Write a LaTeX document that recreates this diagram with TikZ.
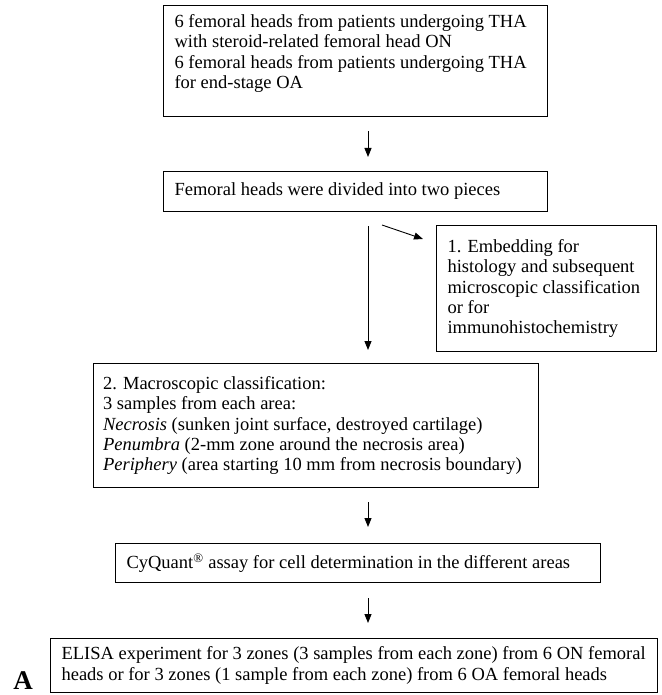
\documentclass[tikz,border=0pt]{standalone}
\usepackage{fontspec}
\setmainfont{Liberation Serif}
\usetikzlibrary{arrows.meta}
\begin{document}
\begin{tikzpicture}[x=1pt,y=-1pt,
  blk/.style={draw, line width=1.1pt, anchor=north west, inner xsep=11pt, inner ysep=0pt,
    align=flush left, font=\fontsize{18.5}{20.3}\selectfont},
  arr/.style={line width=0.9pt, -{Triangle[length=9pt,width=7pt]}}]
\useasboundingbox (0,0) rectangle (661,695);
\node[blk, minimum width=384pt, minimum height=111pt] (b1) at (163,5)
  {\parbox[c][111pt][t]{362pt}{\raggedright\vspace*{9pt}6 femoral heads from patients undergoing THA\\
   with steroid-related femoral head ON\\
   6 femoral heads from patients undergoing THA\\
   for end-stage OA}};
\node[blk, minimum width=384pt, minimum height=40pt, text width=362pt] (b2) at (163,171)
  {Femoral heads were divided into two pieces};
\node[blk, minimum width=220pt, minimum height=126pt, text width=198pt] (b3) at (436,225)
  {1. Embedding for\\ histology and subsequent\\ \mbox{microscopic classification}\\ or for\\ immunohistochemistry};
\node[blk, minimum width=445pt, minimum height=124pt, text width=426pt, inner xsep=9.5pt] (b4) at (93,363)
  {2. Macroscopic classification:\\ 3 samples from each area:\\
   \mbox{\textit{Necrosis} (sunken joint surface, destroyed cartilage)}\\
   \mbox{\textit{Penumbra} (2-mm zone around the necrosis area)}\\
   \mbox{\textit{Periphery} (area starting 10 mm from necrosis boundary)}};
\node[blk, minimum width=485pt, minimum height=39pt, text width=463pt] (b5) at (115,543)
  {\mbox{CyQuant\textsuperscript{\textregistered} assay for cell determination in the different areas}};
\node[blk, minimum width=607pt, minimum height=54pt, text width=585pt] (b6) at (50,638)
  {\mbox{ELISA experiment for 3 zones (3 samples from each zone) from 6 ON femoral}\\
   \mbox{heads or for 3 zones (1 sample from each zone) from 6 OA femoral heads}};
\node[font=\fontsize{27}{27}\selectfont\bfseries, anchor=base, inner sep=0pt] (lab) at (23,689) {A};
\coordinate (ax) at (368,0);
\coordinate (d1) at (382,225);
\coordinate (d2) at (423,239);
\draw[arr, shorten <=14pt, shorten >=14pt] (b1.south -| ax) -- (b2.north -| ax);
\draw[arr, shorten <=14pt, shorten >=13pt] (b2.south -| ax) -- (b4.north -| ax);
\draw[arr] (d1) -- (d2);
\draw[arr, shorten <=14pt, shorten >=16pt] (b4.south -| ax) -- (b5.north -| ax);
\draw[arr, shorten <=15pt, shorten >=15pt] (b5.south -| ax) -- (b6.north -| ax);
\end{tikzpicture}
\end{document}
